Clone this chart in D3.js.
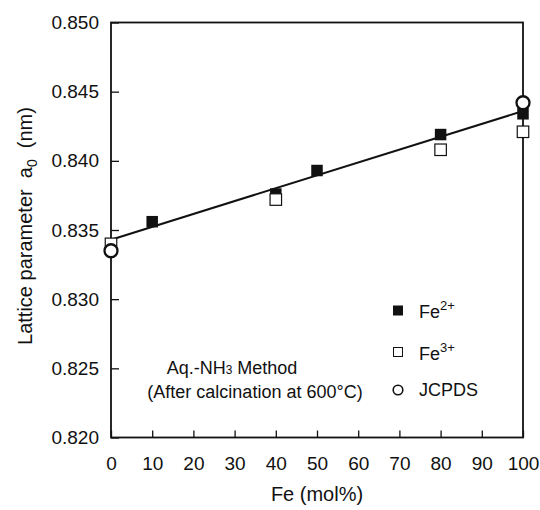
<!DOCTYPE html>
<html>
<head>
<meta charset="utf-8">
<script src="https://cdn.jsdelivr.net/npm/d3@7"></script>
<style>
  body { margin: 0; background: #fff; }
  svg text { font-family: "Liberation Sans", Arial, Helvetica, sans-serif; fill: #111; }
</style>
</head>
<body>
<div id="chart"></div>
<script>
// Fe content (mol%) and lattice parameter a0 (nm)
const fe2X = [10, 40, 50, 80, 100];
const fe2Y = [0.8356, 0.8376, 0.8393, 0.8419, 0.8434];
const fe3X = [0, 40, 80, 100];
const fe3Y = [0.8340, 0.8372, 0.8408, 0.8421];
const jcpdsX = [0, 100];
const jcpdsY = [0.8335, 0.8442];
const fitX = [0, 100];
const fitY = [0.8343, 0.8436];
const xTicks = [0, 10, 20, 30, 40, 50, 60, 70, 80, 90, 100];
const yTicks = [0.820, 0.825, 0.830, 0.835, 0.840, 0.845, 0.850];

let width = 540,
    height = 510;
let margin = {left: 111, right: 17, top: 22.5, bottom: 72.5};

let svg = d3.select("#chart").append("svg")
    .attr("width", width)
    .attr("height", height);

let x = d3.scaleLinear()
    .domain([0, 100])
    .range([margin.left, width - margin.right]);

let y = d3.scaleLinear()
    .domain([0.820, 0.850])
    .range([height - margin.bottom, margin.top]);

//bottom axis, ticks pointing inward
let xAxis = svg.append("g")
    .attr("transform", "translate(0," + y(0.820) + ")")
    .call(d3.axisBottom(x).tickValues(xTicks).tickSize(-7).tickPadding(19).tickFormat(d3.format("d")));
xAxis.select(".domain").remove();
xAxis.selectAll("line").attr("stroke", "#111").attr("stroke-width", 1.3);
xAxis.selectAll("text").style("font-size", "19px");

//left axis
let yAxis = svg.append("g")
    .attr("transform", "translate(" + x(0) + ",0)")
    .call(d3.axisLeft(y).tickValues(yTicks).tickSize(-8).tickPadding(12).tickFormat(d3.format(".3f")));
yAxis.select(".domain").remove();
yAxis.selectAll("line").attr("stroke", "#111").attr("stroke-width", 1.3);
yAxis.selectAll("text").style("font-size", "19px");

//frame
svg.append("rect")
    .attr("x", x(0))
    .attr("y", y(0.850))
    .attr("width", x(100) - x(0))
    .attr("height", y(0.820) - y(0.850))
    .attr("fill", "none")
    .attr("stroke", "#111")
    .attr("stroke-width", 1.8);

//fit line
svg.append("line")
    .attr("x1", x(fitX[0])).attr("y1", y(fitY[0]))
    .attr("x2", x(fitX[1])).attr("y2", y(fitY[1]))
    .attr("stroke", "#111")
    .attr("stroke-width", 2);

let sq = 11.5;

svg.selectAll(".fe2")
    .data(fe2X)
    .enter()
    .append("rect")
    .attr("class", "fe2")
    .attr("x", d => x(d) - sq / 2)
    .attr("y", (d, i) => y(fe2Y[i]) - sq / 2)
    .attr("width", sq)
    .attr("height", sq)
    .attr("fill", "#111");

svg.selectAll(".fe3")
    .data(fe3X)
    .enter()
    .append("rect")
    .attr("class", "fe3")
    .attr("x", d => x(d) - sq / 2)
    .attr("y", (d, i) => y(fe3Y[i]) - sq / 2)
    .attr("width", sq)
    .attr("height", sq)
    .attr("fill", "#fff")
    .attr("stroke", "#111")
    .attr("stroke-width", 1.2);

svg.selectAll(".jcpds")
    .data(jcpdsX)
    .enter()
    .append("circle")
    .attr("class", "jcpds")
    .attr("cx", d => x(d))
    .attr("cy", (d, i) => y(jcpdsY[i]))
    .attr("r", 6.5)
    .attr("fill", "#fff")
    .attr("stroke", "#111")
    .attr("stroke-width", 2.3);

//legend
let lg = svg.append("g").attr("transform", "translate(398,0)");
lg.append("rect").attr("x", -5).attr("y", 305.5).attr("width", 10).attr("height", 10).attr("fill", "#111");
lg.append("rect").attr("x", -4.5).attr("y", 347.5).attr("width", 9).attr("height", 9)
    .attr("fill", "#fff").attr("stroke", "#111").attr("stroke-width", 1);
lg.append("circle").attr("cx", 0).attr("cy", 390).attr("r", 4.8)
    .attr("fill", "#fff").attr("stroke", "#111").attr("stroke-width", 1.6);

let t1 = lg.append("text").attr("x", 21).attr("y", 318).style("font-size", "18px");
t1.append("tspan").text("Fe");
t1.append("tspan").attr("dy", -8).style("font-size", "13px").text("2+");
let t2 = lg.append("text").attr("x", 21).attr("y", 360).style("font-size", "18px");
t2.append("tspan").text("Fe");
t2.append("tspan").attr("dy", -8).style("font-size", "13px").text("3+");
lg.append("text").attr("x", 21).attr("y", 396).style("font-size", "18px").text("JCPDS");

//annotation
let a1 = svg.append("text").attr("x", 232).attr("y", 374).attr("text-anchor", "middle").style("font-size", "18px");
a1.append("tspan").text("Aq.-NH");
a1.append("tspan").style("font-size", "12px").text("3");
a1.append("tspan").text(" Method");
svg.append("text").attr("x", 255).attr("y", 398).attr("text-anchor", "middle").style("font-size", "18px")
    .text("(After calcination at 600\u00B0C)");

//axis titles
svg.append("text")
    .attr("x", x(50))
    .attr("y", 501)
    .attr("text-anchor", "middle")
    .style("font-size", "20px")
    .text("Fe (mol%)");

let yl = svg.append("text")
    .attr("transform", "translate(32,226) rotate(-90)")
    .attr("text-anchor", "middle")
    .style("font-size", "20px");
yl.append("tspan").text("Lattice parameter\u00A0\u00A0a");
yl.append("tspan").attr("dy", 5).style("font-size", "14px").text("0");
yl.append("tspan").attr("dy", -5).text("\u00A0\u00A0(nm)");
</script>
</body>
</html>
